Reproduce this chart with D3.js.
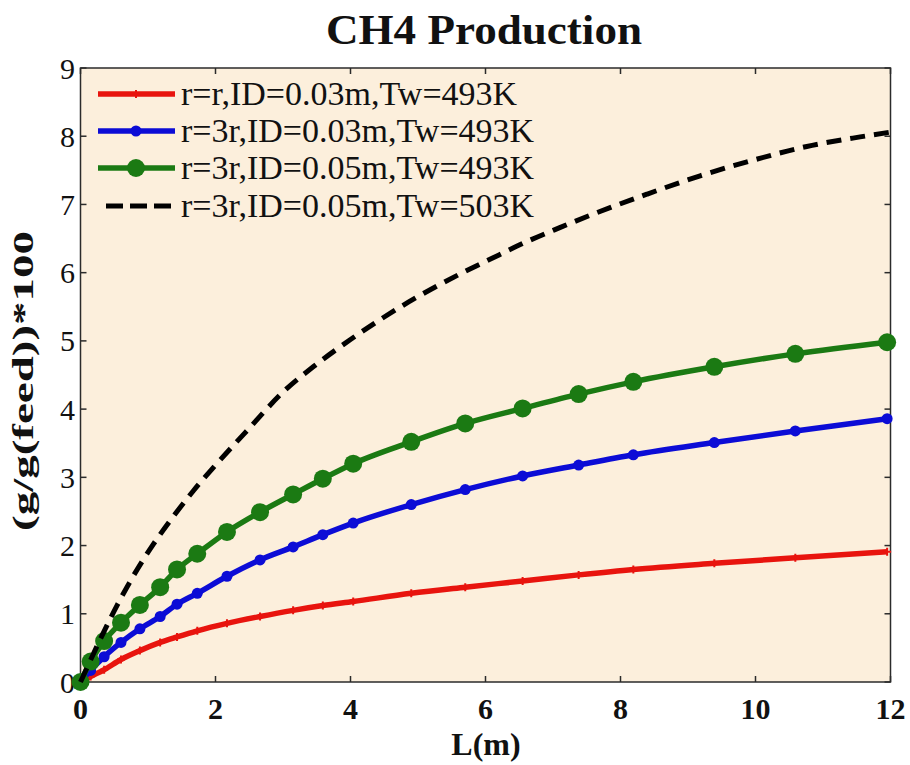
<!DOCTYPE html>
<html><head><meta charset="utf-8">
<script src="https://cdn.jsdelivr.net/npm/d3@7"></script>
<style>body{margin:0;background:#fff}svg{display:block}</style>
</head><body>
<svg id="chart" width="910" height="765"></svg>
<script>
const title = "CH4 Production";
const xLabel = "L(m)";
const yLabel = "(g/g(feed))*100";
const xTicks = [0, 2, 4, 6, 8, 10, 12];
const yTicks = [0, 1, 2, 3, 4, 5, 6, 7, 8, 9];
const seriesNames = ["r=r,ID=0.03m,Tw=493K", "r=3r,ID=0.03m,Tw=493K", "r=3r,ID=0.05m,Tw=493K", "r=3r,ID=0.05m,Tw=503K"];
const L = [0, 0.15, 0.35, 0.6, 0.88, 1.18, 1.43, 1.73, 2.17, 2.66, 3.15, 3.59, 4.04, 4.9, 5.7, 6.55, 7.38, 8.19, 9.39, 10.59, 11.95];
const red = [0, 0.08, 0.18, 0.33, 0.46, 0.58, 0.66, 0.75, 0.86, 0.96, 1.05, 1.12, 1.18, 1.3, 1.39, 1.48, 1.57, 1.65, 1.74, 1.82, 1.91];
const blue = [0, 0.17, 0.37, 0.58, 0.78, 0.96, 1.14, 1.3, 1.55, 1.79, 1.98, 2.16, 2.33, 2.6, 2.82, 3.02, 3.18, 3.33, 3.51, 3.68, 3.86];
const green = [0, 0.3, 0.6, 0.87, 1.13, 1.39, 1.65, 1.88, 2.2, 2.49, 2.75, 2.98, 3.2, 3.52, 3.79, 4.01, 4.22, 4.4, 4.62, 4.81, 4.98];
const Lblack = [0, 0.29, 0.54, 0.78, 1.08, 1.37, 1.67, 2.02, 2.5, 3.0, 3.5, 4.0, 4.5, 5.0, 5.6, 6.2, 6.6, 7.1, 7.6, 8.39, 9.18, 9.97, 10.76, 11.55, 12];
const black = [0, 0.62, 1.12, 1.55, 2.02, 2.42, 2.8, 3.2, 3.72, 4.25, 4.66, 5.02, 5.35, 5.65, 5.97, 6.26, 6.45, 6.66, 6.86, 7.15, 7.42, 7.65, 7.85, 7.99, 8.06];

const svg = d3.select("#chart");
const m = {l: 80.5, r: 890.5, t: 68, b: 682};
const x = d3.scaleLinear().domain([0, 12]).range([m.l, m.r]);
const y = d3.scaleLinear().domain([0, 9]).range([m.b, m.t]);
const serif = "'Liberation Serif','Times New Roman',serif";

svg.append("rect").attr("x", m.l).attr("y", m.t).attr("width", m.r - m.l).attr("height", m.b - m.t).attr("fill", "#fcefdc");

// axes with inward ticks on all sides
const tickLen = 6;
const ax = svg.append("g").attr("stroke", "#2b2b2b").attr("stroke-width", 1.5);
xTicks.forEach(t => {
  ax.append("line").attr("x1", x(t)).attr("x2", x(t)).attr("y1", m.b).attr("y2", m.b - tickLen);
  ax.append("line").attr("x1", x(t)).attr("x2", x(t)).attr("y1", m.t).attr("y2", m.t + tickLen);
});
yTicks.forEach(t => {
  ax.append("line").attr("x1", m.l).attr("x2", m.l + tickLen).attr("y1", y(t)).attr("y2", y(t));
  ax.append("line").attr("x1", m.r).attr("x2", m.r - tickLen).attr("y1", y(t)).attr("y2", y(t));
});
ax.append("rect").attr("x", m.l).attr("y", m.t).attr("width", m.r - m.l).attr("height", m.b - m.t).attr("fill", "none");

svg.append("g").selectAll("text").data(xTicks).join("text")
  .attr("x", d => x(d)).attr("y", 719).attr("text-anchor", "middle")
  .attr("font-family", serif).attr("font-size", 30).attr("font-weight", "bold").attr("fill", "#111")
  .text(d => d);
svg.append("g").selectAll("text").data(yTicks).join("text")
  .attr("x", 75).attr("y", d => y(d)).attr("dy", "0.35em").attr("text-anchor", "end")
  .attr("font-family", serif).attr("font-size", 30).attr("fill", "#111")
  .text(d => d);

svg.append("text").attr("x", 484).attr("y", 44).attr("text-anchor", "middle")
  .attr("font-family", serif).attr("font-size", 42).attr("font-weight", "bold").attr("fill", "#111")
  .attr("textLength", 316).attr("lengthAdjust", "spacingAndGlyphs").text(title);
svg.append("text").attr("x", 486).attr("y", 755).attr("text-anchor", "middle")
  .attr("font-family", serif).attr("font-size", 32).attr("font-weight", "bold").attr("fill", "#111")
  .text(xLabel);
svg.append("text").attr("transform", "translate(33,381) rotate(-90)").attr("text-anchor", "middle")
  .attr("font-family", serif).attr("font-size", 30).attr("font-weight", "bold").attr("fill", "#111")
  .attr("textLength", 300).attr("lengthAdjust", "spacingAndGlyphs").text(yLabel);

const line = d3.line().x(d => x(d[0])).y(d => y(d[1])).curve(d3.curveMonotoneX);
const series = [
  {vals: red, xs: L, color: "#e8140e", width: 5.5, marker: "plus", r: 4},
  {vals: blue, xs: L, color: "#0c0cd6", width: 5.5, marker: "circle", r: 5.5},
  {vals: green, xs: L, color: "#1b7a13", width: 5.5, marker: "circle", r: 9},
  {vals: black, xs: Lblack, color: "#000", width: 5, dash: "15,9", marker: null}
];
series.forEach(s => {
  const pts = s.xs.map((v, i) => [v, s.vals[i]]);
  svg.append("path").datum(pts).attr("d", line).attr("fill", "none")
    .attr("stroke", s.color).attr("stroke-width", s.width).attr("stroke-linejoin", "round")
    .attr("stroke-dasharray", s.dash || null);
  if (s.marker === "circle") {
    svg.append("g").selectAll("circle").data(pts).join("circle")
      .attr("cx", d => x(d[0])).attr("cy", d => y(d[1])).attr("r", s.r).attr("fill", s.color);
  } else if (s.marker === "plus") {
    svg.append("g").selectAll("path").data(pts).join("path")
      .attr("d", d => `M${x(d[0]) - s.r},${y(d[1])}h${2 * s.r}M${x(d[0])},${y(d[1]) - s.r}v${2 * s.r}`)
      .attr("stroke", s.color).attr("stroke-width", 2);
  }
});

// legend
const legRows = [94, 131, 168, 206];
series.forEach((s, i) => {
  const g = svg.append("g");
  const yy = legRows[i];
  g.append("line").attr("x1", s.dash ? 106 : 98).attr("x2", 175).attr("y1", yy).attr("y2", yy)
    .attr("stroke", s.color).attr("stroke-width", s.width).attr("stroke-dasharray", s.dash ? "17,7" : null);
  if (s.marker === "circle") g.append("circle").attr("cx", 136).attr("cy", yy).attr("r", s.r).attr("fill", s.color);
  if (s.marker === "plus") g.append("path").attr("d", `M132,${yy}h8M136,${yy - 4}v8`).attr("stroke", s.color).attr("stroke-width", 2);
  g.append("text").attr("x", 181).attr("y", yy + 11).attr("font-family", serif).attr("font-size", 34)
    .attr("fill", "#111").text(seriesNames[i]);
});
</script>
</body></html>
